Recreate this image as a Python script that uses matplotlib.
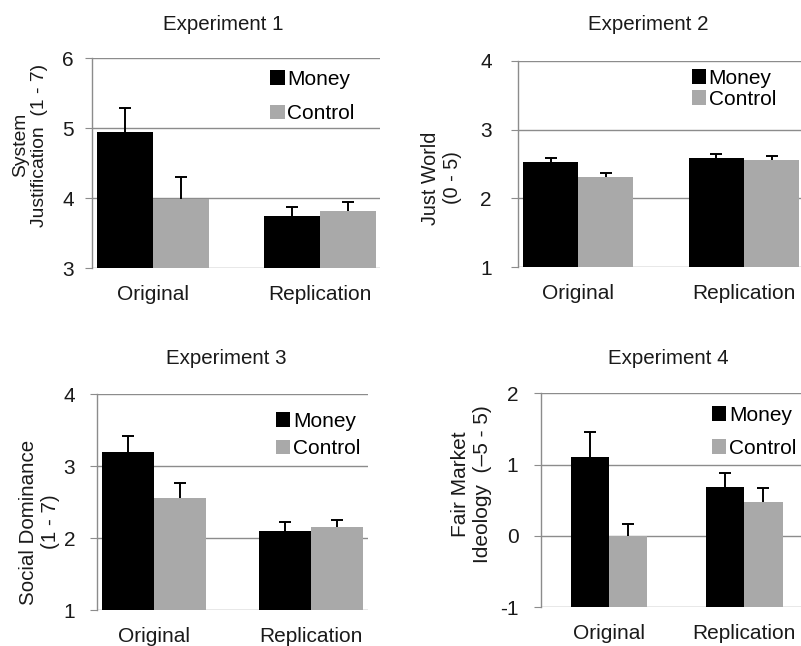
import matplotlib
matplotlib.use("Agg")
import matplotlib.pyplot as plt
from matplotlib.patches import Patch

plt.rcParams['font.family'] = ['Liberation Sans', 'DejaVu Sans']
plt.rcParams['axes.unicode_minus'] = False

groups = ["Original", "Replication"]
series = ["Money", "Control"]

exp1_money = [4.95, 3.75]
exp1_money_err = [0.34, 0.12]
exp1_control = [3.98, 3.82]
exp1_control_err = [0.32, 0.13]

exp2_money = [2.53, 2.58]
exp2_money_err = [0.06, 0.06]
exp2_control = [2.31, 2.56]
exp2_control_err = [0.06, 0.05]

exp3_money = [3.19, 2.10]
exp3_money_err = [0.23, 0.12]
exp3_control = [2.55, 2.15]
exp3_control_err = [0.21, 0.10]

exp4_money = [1.11, 0.68]
exp4_money_err = [0.35, 0.20]
exp4_control = [0.00, 0.47]
exp4_control_err = [0.17, 0.20]

titles = ["Experiment 1", "Experiment 2", "Experiment 3", "Experiment 4"]
ylabels = ["System\nJustification  (1 - 7)", "Just World\n(0 - 5)",
           "Social Dominance\n(1 - 7)", "Fair Market\nIdeology  (\u20135 - 5)"]
yticks = [[3, 4, 5, 6], [1, 2, 3, 4], [1, 2, 3, 4], [-1, 0, 1, 2]]

W, H = 801, 646
fig = plt.figure(figsize=(W / 100, H / 100), dpi=100)

MONEY = "#000000"
CONTROL = "#a9a9a9"
GRID = "#8c8c8c"
TEXT = "#1a1a1a"


def px_axes(l, t, r, b):
    return fig.add_axes([l / W, 1 - b / H, (r - l) / W, (b - t) / H])


def upper_errorbar(ax, xs, vals, errs):
    _, caps, _ = ax.errorbar(xs, vals, yerr=[[0] * len(vals), errs], fmt="none",
                             ecolor="black", elinewidth=1.4, capsize=4,
                             capthick=1.4, zorder=1)
    # only the upper whisker carries a cap
    for cap in caps:
        if list(cap.get_ydata()) == list(vals):
            cap.set_visible(False)


panels = [
    dict(box=(92, 58, 380, 268), xlim=(-0.365, 1.359), width=0.335,
         data=(exp1_money, exp1_money_err, exp1_control, exp1_control_err),
         title_xy=(223, 25), ylab_xy=(30, 145), ylab_fs=13.9, leg=(0.618, 0.945),
         ls=0.75, tickpad=8),
    dict(box=(518.3, 60.7, 801, 267.3), xlim=(-0.362, 1.344), width=0.332,
         data=(exp2_money, exp2_money_err, exp2_control, exp2_control_err),
         title_xy=(648, 25), ylab_xy=(442, 178), ylab_fs=14.2, leg=(0.613, 0.962),
         ls=0.1, tickpad=14),
    dict(box=(97.3, 394, 368.3, 610), xlim=(-0.361, 1.365), width=0.333,
         data=(exp3_money, exp3_money_err, exp3_control, exp3_control_err),
         title_xy=(226, 358), ylab_xy=(39, 522), ylab_fs=14.8, leg=(0.659, 0.917),
         ls=0.4, tickpad=11),
    dict(box=(540.7, 393.3, 801, 607.3), xlim=(-0.506, 1.422), width=0.285,
         data=(exp4_money, exp4_money_err, exp4_control, exp4_control_err),
         title_xy=(668, 359), ylab_xy=(471, 484), ylab_fs=15.0, leg=(0.657, 0.942),
         ls=0.68, tickpad=11),
]

for i, p in enumerate(panels):
    ax = px_axes(*p["box"])
    money, money_err, control, control_err = p["data"]
    lo, hi = yticks[i][0], yticks[i][-1]
    w = p["width"]
    xs = [0, 1]
    xm = [x - w / 2 for x in xs]
    xc = [x + w / 2 for x in xs]

    ax.set_axisbelow(True)
    ax.yaxis.grid(True, color=GRID, linewidth=1.0)
    ax.bar(xm, [v - lo for v in money], bottom=lo, width=w, color=MONEY,
           edgecolor="none", zorder=2)
    ax.bar(xc, [v - lo for v in control], bottom=lo, width=w, color=CONTROL,
           edgecolor="none", zorder=2)
    upper_errorbar(ax, xm, money, money_err)
    upper_errorbar(ax, xc, control, control_err)

    ax.set_ylim(lo, hi)
    ax.set_xlim(*p["xlim"])
    ax.set_yticks(yticks[i])
    ax.set_xticks(xs)
    ax.set_xticklabels(groups, fontsize=15, color=TEXT)
    ax.tick_params(axis="y", length=5, color=GRID, labelsize=15,
                   labelcolor=TEXT, pad=p["tickpad"])
    ax.tick_params(axis="x", length=0, pad=12)
    for s in ("top", "right", "bottom"):
        ax.spines[s].set_visible(False)
    ax.spines["left"].set_color(GRID)
    ax.spines["left"].set_linewidth(1.0)

    handles = [Patch(facecolor=MONEY, edgecolor="none"),
               Patch(facecolor=CONTROL, edgecolor="none")]
    ax.legend(handles, series, loc="upper left", bbox_to_anchor=p["leg"],
              frameon=False, fontsize=15, handlelength=0.7, handleheight=0.7,
              handletextpad=0.12, labelspacing=p["ls"], borderpad=0,
              borderaxespad=0)

    tx, ty = p["title_xy"]
    fig.text(tx / W, 1 - ty / H, titles[i], ha="center", va="center",
             fontsize=14.8, color=TEXT)
    lx, ly = p["ylab_xy"]
    fig.text(lx / W, 1 - ly / H, ylabels[i], ha="center", va="center",
             rotation=90, fontsize=p["ylab_fs"], color=TEXT, linespacing=1.2,
             multialignment="center")

fig.savefig("out.png", dpi=100)
